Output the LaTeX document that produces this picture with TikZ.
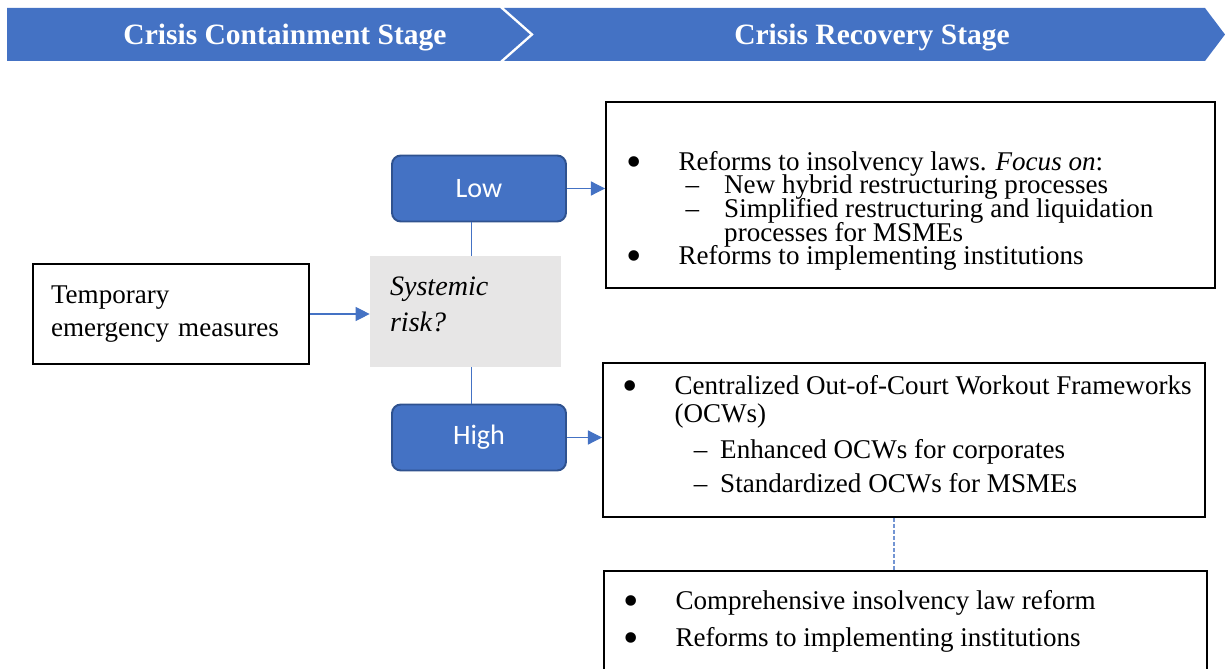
\documentclass[tikz,border=0pt]{standalone}
\usepackage{fontspec}
\setmainfont{Liberation Serif}
\newfontfamily\calibrifont{Carlito}
\usetikzlibrary{arrows.meta,positioning,fit,calc}
\definecolor{stageblue}{RGB}{68,114,196}
\definecolor{stageedge}{RGB}{47,82,143}
\definecolor{riskgray}{RGB}{231,230,230}
\newcommand{\bigdot}{\smash{\raisebox{-3.4pt}{\fontsize{25pt}{0pt}\selectfont\textbullet}}}
\newcommand{\dotitem}[1]{\makebox[28pt][l]{\hspace*{-1.5pt}\bigdot}#1}
\newcommand{\dashitem}[2][32pt]{\hspace*{#1}\makebox[\dimexpr54pt-#1\relax][l]{--}#2}
\newcommand{\tightlines}{\lineskiplimit=-20pt\relax}

\begin{document}
\begin{tikzpicture}[
    x=0.02cm, y=-0.02cm,
    stagelabel/.style={text=white, font=\fontsize{16.8pt}{20pt}\selectfont\bfseries},
    plainbox/.style={draw, line width=1.1pt, inner sep=0pt, minimum width=5.52cm, minimum height=2cm, text width=4.8cm, align=left, font=\fontsize{15.4pt}{18.8pt}\selectfont},
    riskbox/.style={fill=riskgray, inner sep=0pt, minimum width=3.82cm, minimum height=2.22cm, text width=3.02cm, align=left, font=\fontsize{16pt}{20.5pt}\selectfont\itshape},
    levelbox/.style={draw=stageedge, line width=1.1pt, fill=stageblue, rounded corners=5pt, inner sep=0pt, minimum width=3.48cm, minimum height=1.32cm, text=white, font=\fontsize{16pt}{19pt}\selectfont\calibrifont},
    listbox/.style={draw, line width=1.1pt, inner sep=0pt},
    listtext/.style={inner sep=0pt, align=left, anchor=north west, font=\fontsize{15.4pt}{13.4pt}\selectfont\tightlines},
    link/.style={draw=stageblue, line width=0.6pt, -{Triangle[length=8pt,width=8pt]}},
    joint/.style={draw=stageblue, line width=0.6pt},
    dashjoint/.style={draw=stageblue!75, line width=0.8pt, dash pattern=on 2.2pt off 1.2pt}
]
\useasboundingbox (0,0) rectangle (1225,669);

\fill[stageblue] (7,8) -- (500,8) -- (530,34.5) -- (500,61) -- (7,61) -- cycle;
\fill[stageblue] (504,8) -- (1205,8) -- (1225,34.5) -- (1205,61) -- (504,61) -- (534,34.5) -- cycle;
\node[stagelabel] (contain) at (285,38) {Crisis Containment Stage};
\node[stagelabel] (recover) at (872,38) {Crisis Recovery Stage};

\node[plainbox] (temp) at (171,314) {Temporary\\emergency measures};
\node[riskbox] (risk) at (465.5,311.5) {Systemic\\risk?\\[-12pt]\mbox{}};
\node[levelbox] (low) at (479,188.5) {Low};
\node[levelbox] (high) at (479,437.5) {High};

\node[listbox, fit={(606,102) (1215,288)}] (reforms) {};
\node[listbox, fit={(603,363) (1205,517)}] (ocw) {};
\node[listbox, fit={(604,571) (1207,690)}] (overhaul) {};

\node[listtext] (reformstext) at (629,151) {%
\dotitem{Reforms to insolvency laws. \textit{Focus on}:}\\
\dashitem{New hybrid restructuring processes}\\
\dashitem{Simplified restructuring and liquidation}\\
\hspace*{54pt}processes for MSMEs\\
\dotitem{Reforms to implementing institutions}};
\node[listtext] (ocwtext) at (625,375) {%
\dotitem{Centralized Out-of-Court Workout Frameworks}\\[2.5pt]
\hspace*{28pt}(OCWs)\\[7.1pt]
\dashitem[39pt]{Enhanced OCWs for corporates}\\[5.9pt]
\dashitem[39pt]{Standardized OCWs for MSMEs}};
\node[listtext] (overhaultext) at (626,590) {%
\dotitem{Comprehensive insolvency law reform}\\[7.6pt]
\dotitem{Reforms to implementing institutions}};

\draw[link] (temp.east) -- (temp.east -| risk.west);
\draw[joint] ([xshift=-4.5pt]low.south) -- ([xshift=-4.5pt]low.south |- risk.north);
\draw[joint] ([xshift=-4.5pt]high.north |- risk.south) -- ([xshift=-4.5pt]high.north);
\draw[link] (low.east) -- (low.east -| reforms.west);
\draw[link] (high.east) -- (high.east -| ocw.west);
\draw[dashjoint] ([xshift=-5.7pt]ocw.south) -- ([xshift=-5.7pt]ocw.south |- overhaul.north);

\end{tikzpicture}
\end{document}
